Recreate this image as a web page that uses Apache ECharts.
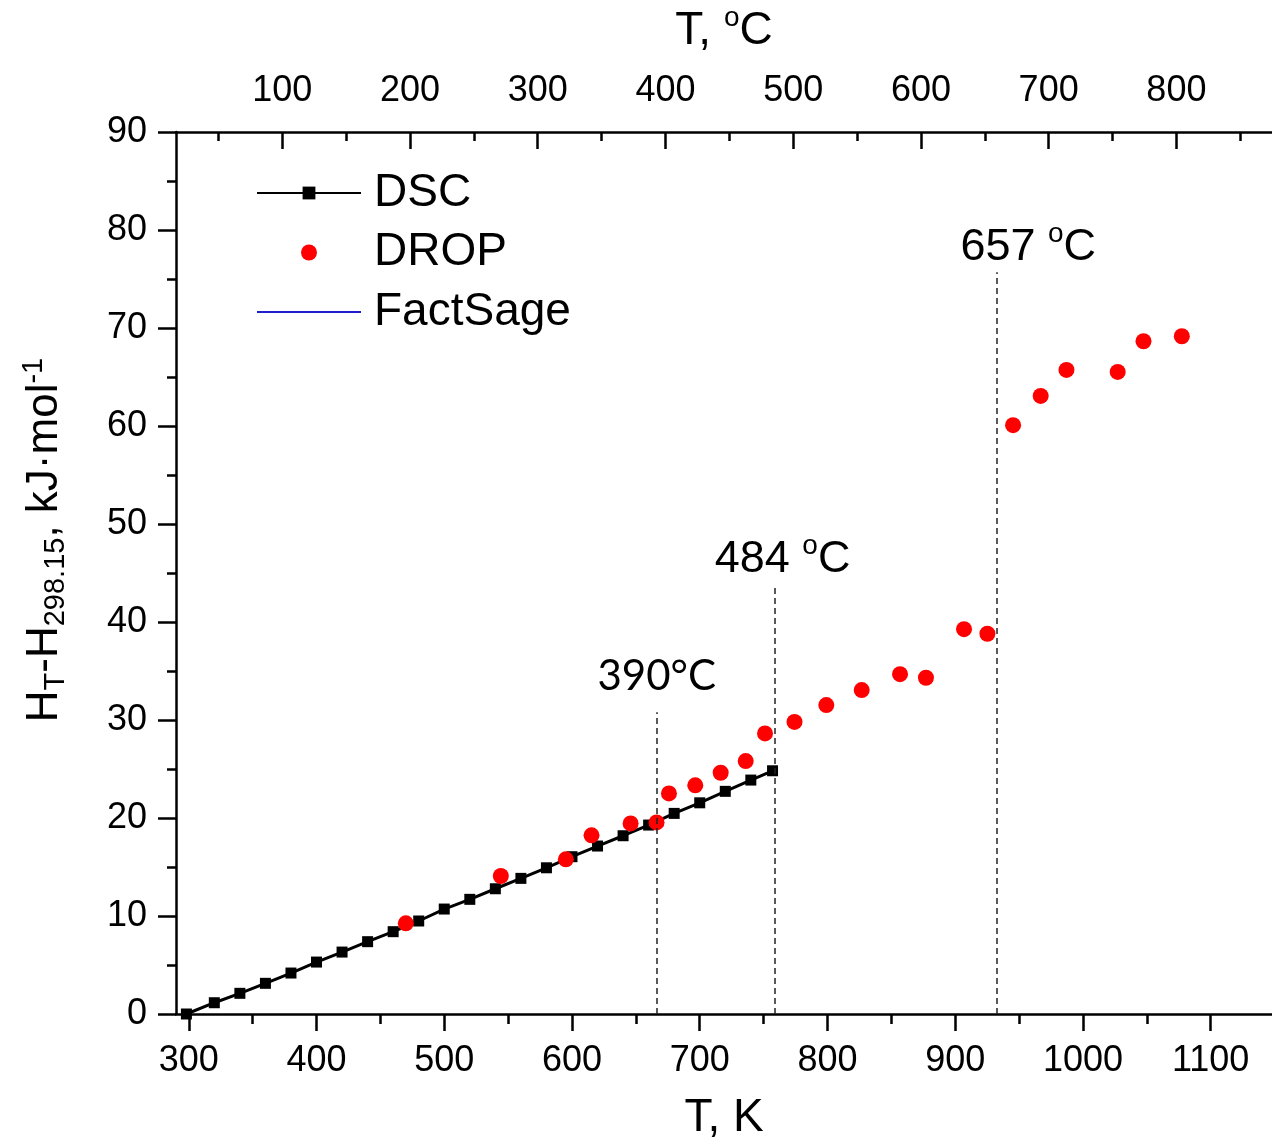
<!DOCTYPE html>
<html><head><meta charset="utf-8">
<script src="https://cdn.jsdelivr.net/npm/echarts@6/dist/echarts.min.js"></script>
<style>html,body{margin:0;padding:0;background:#fff}#c{width:1272px;height:1139px}</style>
</head><body><div id="c"></div>
<script>
// ---- data ----
const dscT = [298.15, 320, 340, 360, 380, 400, 420, 440, 460, 480, 500, 520, 540, 560, 580, 600, 620, 640, 660, 680, 700, 720, 740, 757];
const dscH = [0, 1.15, 2.11, 3.13, 4.18, 5.30, 6.32, 7.38, 8.40, 9.49, 10.71, 11.70, 12.78, 13.84, 14.92, 16.05, 17.14, 18.19, 19.28, 20.47, 21.55, 22.72, 23.87, 24.82];
const dropT = [469.9, 544.3, 595.2, 615.3, 645.9, 666.2, 675.9, 696.5, 716.4, 736.0, 751.1, 774.2, 799.1, 826.8, 856.8, 877.1, 906.9, 925.2, 945.3, 966.9, 987.1, 1027.2, 1047.4, 1077.4];
const dropH = [9.25, 14.08, 15.78, 18.23, 19.45, 19.55, 22.51, 23.33, 24.62, 25.81, 28.63, 29.8, 31.52, 33.05, 34.68, 34.31, 39.27, 38.80, 60.08, 63.07, 65.72, 65.52, 68.65, 69.16];
const factSageT = [];
const factSageH = [];
const kTicks = [300, 400, 500, 600, 700, 800, 900, 1000, 1100];
const kMinorTicks = [350, 450, 550, 650, 750, 850, 950, 1050];
const cTicks = [100, 200, 300, 400, 500, 600, 700, 800];
const cMinorTicks = [50, 150, 250, 350, 450, 550, 650, 750, 850];
const transitionT = [666.3, 758.6, 932.5];
const transitionTop = [30.8, 43.6, 75.7];
const transitionLabels = ['390°C', '484 {o|o}C', '657 {o|o}C'];
const xMinK = 290, xMaxK = 1148, KELVIN0 = 273.15;

// ---- styles ----
const F = '"Liberation Sans", Arial, sans-serif';
const BLACK = '#000';
const axisLineStyle = {color: BLACK, width: 2.5};
const gridRect = {left: 176, top: 132, right: 0, bottom: 125, outerBoundsMode: 'none', containLabel: false};
const labelPads = [0, 16, 63];
const labelFonts = ['Lato, "Open Sans", sans-serif', F, F];
const labelSizes = [42, 45, 45];
const labelDist = [15, 0, -2];
const supRich = {o: {fontSize: 28, fontFamily: F, color: BLACK, padding: [0, 0, 26, 0]}};
const plain = v => String(v);

const chart = echarts.init(document.getElementById('c'), null, {renderer: 'canvas'});
const option = {
  animation: false,
  backgroundColor: '#fff',
  grid: [Object.assign({}, gridRect), Object.assign({}, gridRect)],
  xAxis: [
    {
      gridIndex: 0, type: 'value', position: 'bottom', min: xMinK, max: xMaxK,
      axisLine: {show: true, onZero: false, lineStyle: axisLineStyle},
      axisTick: {show: true, inside: false, length: 17, customValues: kTicks, lineStyle: axisLineStyle},
      axisLabel: {customValues: kTicks, formatter: plain, margin: 29, fontSize: 36, fontFamily: F, color: BLACK},
      splitLine: {show: false},
      name: 'T, K', nameLocation: 'middle', nameGap: 81,
      nameTextStyle: {fontSize: 46, fontFamily: F, color: BLACK}
    },
    {
      gridIndex: 0, type: 'value', position: 'top', min: xMinK - KELVIN0, max: xMaxK - KELVIN0,
      axisLine: {show: true, onZero: false, lineStyle: axisLineStyle},
      axisTick: {show: true, inside: true, length: 17, customValues: cTicks, lineStyle: axisLineStyle},
      axisLabel: {customValues: cTicks, formatter: plain, margin: 23, fontSize: 36, fontFamily: F, color: BLACK},
      splitLine: {show: false},
      name: 'T, {o|o}C', nameLocation: 'middle', nameGap: 74,
      nameTextStyle: {fontSize: 46, fontFamily: F, color: BLACK, rich: supRich}
    },
    {
      gridIndex: 1, type: 'value', position: 'bottom', min: xMinK, max: xMaxK,
      axisLine: {show: false},
      axisTick: {show: true, inside: false, length: 10, customValues: kMinorTicks, lineStyle: axisLineStyle},
      axisLabel: {show: false}, splitLine: {show: false}
    },
    {
      gridIndex: 1, type: 'value', position: 'top', min: xMinK - KELVIN0, max: xMaxK - KELVIN0,
      axisLine: {show: false},
      axisTick: {show: true, inside: true, length: 9, customValues: cMinorTicks, lineStyle: axisLineStyle},
      axisLabel: {show: false}, splitLine: {show: false}
    }
  ],
  yAxis: [
    {
      gridIndex: 0, type: 'value', position: 'left', min: 0, max: 90, interval: 10,
      axisLine: {show: true, onZero: false, lineStyle: axisLineStyle},
      axisTick: {show: true, inside: false, length: 18, lineStyle: axisLineStyle},
      minorTick: {show: true, splitNumber: 2, length: 9, lineStyle: axisLineStyle},
      axisLabel: {margin: 29, fontSize: 36, fontFamily: F, color: BLACK},
      splitLine: {show: false}, minorSplitLine: {show: false},
      name: '{b|H}{s|T}{b|-H}{s|298.15}{b|, kJ·mol}{p|-1}',
      nameLocation: 'middle', nameRotate: 90, nameGap: 106,
      nameTextStyle: {
        fontSize: 44, fontFamily: F, color: BLACK, padding: [0, 0, 0, 66],
        rich: {
          b: {fontSize: 44, fontFamily: F, color: BLACK},
          s: {fontSize: 29, fontFamily: F, color: BLACK, padding: [22, 0, 0, 0]},
          p: {fontSize: 29, fontFamily: F, color: BLACK, padding: [0, 0, 22, 0]}
        }
      }
    },
    {gridIndex: 1, type: 'value', min: 0, max: 90, show: false}
  ],
  legend: {
    orient: 'vertical', left: 256, top: 170, padding: 0,
    itemWidth: 104, itemHeight: 16, itemGap: 13.5,
    selectedMode: false,
    textStyle: {fontSize: 46, fontFamily: F, color: BLACK, padding: [0, 0, 0, 8]},
    data: ['DSC', 'DROP', {name: 'FactSage', itemStyle: {opacity: 0}}]
  },
  series: [
    {
      name: 'DSC', type: 'line', xAxisIndex: 0, yAxisIndex: 0,
      data: dscT.map((t, i) => [t, dscH[i]]),
      symbol: 'rect', symbolSize: 11, showAllSymbol: true,
      itemStyle: {color: BLACK}, lineStyle: {color: BLACK, width: 3}, z: 2,
      markLine: {
        silent: true, symbol: 'none', animation: false,
        lineStyle: {color: '#222', width: 1.5, type: [6, 4]},
        label: {show: true, position: 'end', distance: 5, color: BLACK, fontFamily: F, fontSize: 45, rich: supRich},
        data: transitionT.map((t, i) => [
          {coord: [t, 0], label: {formatter: transitionLabels[i], padding: [0, 0, 0, labelPads[i]], fontFamily: labelFonts[i], fontSize: labelSizes[i], distance: labelDist[i]}},
          {coord: [t, transitionTop[i]]}
        ])
      }
    },
    {
      name: 'DROP', type: 'scatter', xAxisIndex: 0, yAxisIndex: 0,
      data: dropT.map((t, i) => [t, dropH[i]]),
      symbol: 'circle', symbolSize: 16, itemStyle: {color: '#ff0000', opacity: 1}, z: 3
    },
    {
      name: 'FactSage', type: 'line', xAxisIndex: 0, yAxisIndex: 0,
      data: factSageT.map((t, i) => [t, factSageH[i]]),
      symbol: 'none', lineStyle: {color: '#1f1fd0', width: 2}, itemStyle: {color: '#1f1fd0'}
    }
  ]
};
chart.setOption(option);
</script>
</body></html>
